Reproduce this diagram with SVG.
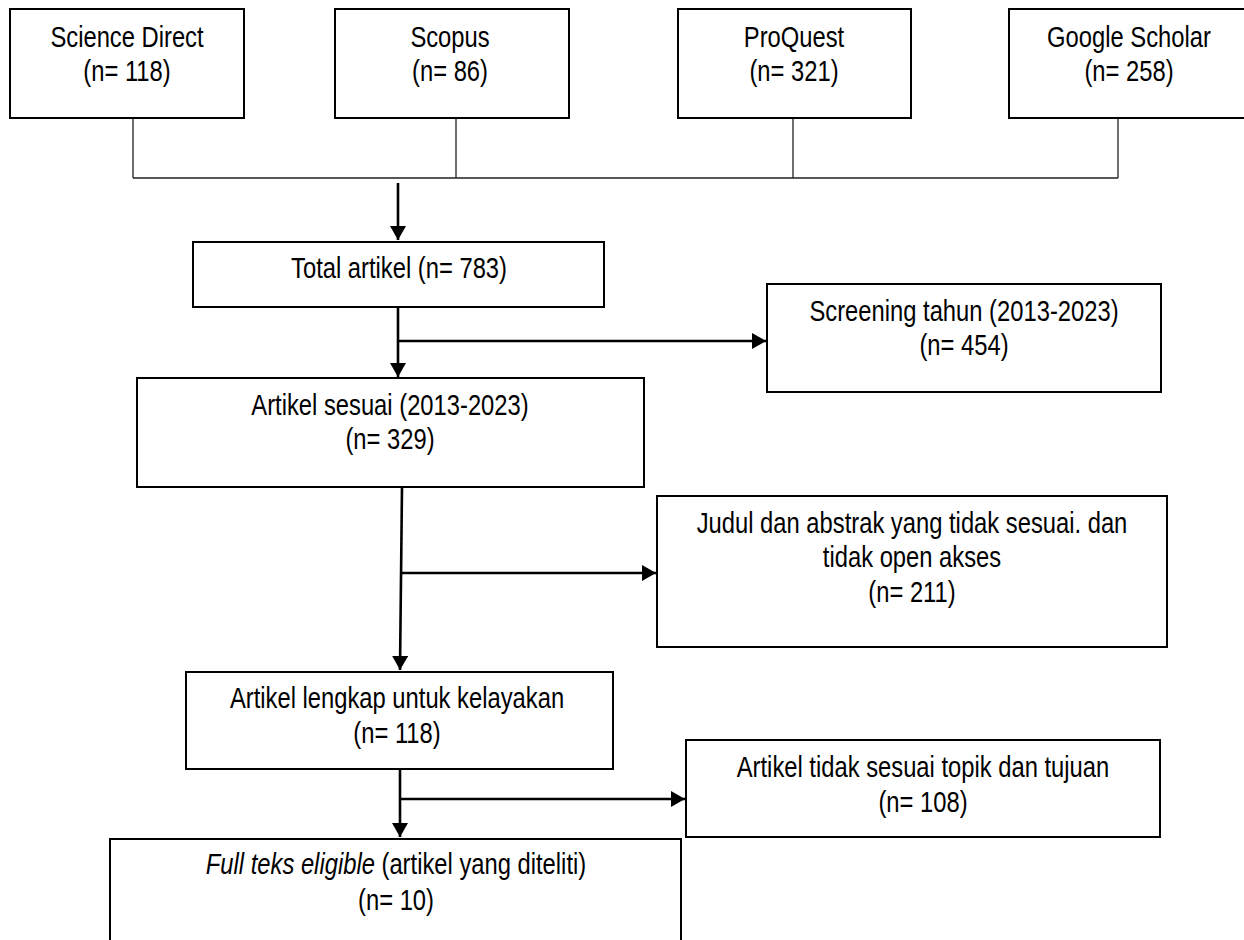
<svg xmlns="http://www.w3.org/2000/svg" width="1244" height="940" viewBox="0 0 1244 940">
<style>
.box{fill:#fff;stroke:#000;stroke-width:2}
.t{font-family:"Liberation Sans Narrow","Arial Narrow","Liberation Sans",Arial,sans-serif;font-size:29px;fill:#000;text-anchor:middle}
.thin{fill:none;stroke:#222;stroke-width:1.3}
.arr{fill:none;stroke:#000;stroke-width:2.6;marker-end:url(#ah)}
</style>
<defs>
<marker id="ah" viewBox="0 0 14 16" refX="14" refY="8" markerWidth="14" markerHeight="16" markerUnits="userSpaceOnUse" orient="auto">
<path d="M0,0 L14,8 L0,16 z" fill="#000"/>
</marker>
</defs>
<rect width="1244" height="940" fill="#fff"/>
<g id="connectors">
<path class="thin" d="M133,118 V178 M456,118 V178 M793,118 V178 M1118,118 V178 M133,178 H1118"/>
<path class="arr" d="M398,183 V240"/>
<path class="arr" d="M398,307 V377"/>
<path class="arr" d="M398,341 H766"/>
<path class="arr" d="M402,487 L400,670"/>
<path class="arr" d="M401,573 H656"/>
<path class="arr" d="M400,768 V837"/>
<path class="arr" d="M400,799 H685"/>
</g>
<g id="science-direct">
<rect class="box" x="10" y="9" width="234" height="109"/>
<text class="t" transform="translate(127 0) scale(0.82 1)" y="47">Science Direct</text>
<text class="t" transform="translate(127 0) scale(0.82 1)" y="81">(n= 118)</text>
</g>
<g id="scopus">
<rect class="box" x="335" y="9" width="234" height="109"/>
<text class="t" transform="translate(450 0) scale(0.82 1)" y="47">Scopus</text>
<text class="t" transform="translate(450 0) scale(0.82 1)" y="81">(n= 86)</text>
</g>
<g id="proquest">
<rect class="box" x="678" y="9" width="233" height="109"/>
<text class="t" transform="translate(794 0) scale(0.82 1)" y="47">ProQuest</text>
<text class="t" transform="translate(794 0) scale(0.82 1)" y="81">(n= 321)</text>
</g>
<g id="google-scholar">
<rect class="box" x="1009" y="9" width="240" height="109"/>
<text class="t" transform="translate(1129 0) scale(0.82 1)" y="47">Google Scholar</text>
<text class="t" transform="translate(1129 0) scale(0.82 1)" y="81">(n= 258)</text>
</g>
<g id="total">
<rect class="box" x="193" y="242" width="411" height="65"/>
<text class="t" transform="translate(399 0) scale(0.82 1)" y="278">Total artikel (n= 783)</text>
</g>
<g id="screening">
<rect class="box" x="767" y="284" width="394" height="108"/>
<text class="t" transform="translate(964 0) scale(0.82 1)" y="321">Screening tahun (2013-2023)</text>
<text class="t" transform="translate(964 0) scale(0.82 1)" y="355">(n= 454)</text>
</g>
<g id="artikel-sesuai">
<rect class="box" x="137" y="378" width="507" height="109"/>
<text class="t" transform="translate(390 0) scale(0.82 1)" y="415">Artikel sesuai (2013-2023)</text>
<text class="t" transform="translate(390 0) scale(0.82 1)" y="449">(n= 329)</text>
</g>
<g id="judul">
<rect class="box" x="657" y="496" width="510" height="151"/>
<text class="t" transform="translate(912 0) scale(0.82 1)" y="533">Judul dan abstrak yang tidak sesuai. dan</text>
<text class="t" transform="translate(912 0) scale(0.82 1)" y="567">tidak open akses</text>
<text class="t" transform="translate(912 0) scale(0.82 1)" y="602">(n= 211)</text>
</g>
<g id="artikel-lengkap">
<rect class="box" x="186" y="672" width="427" height="97"/>
<text class="t" transform="translate(397 0) scale(0.82 1)" y="708">Artikel lengkap untuk kelayakan</text>
<text class="t" transform="translate(397 0) scale(0.82 1)" y="743">(n= 118)</text>
</g>
<g id="tidak-sesuai">
<rect class="box" x="686" y="740" width="474" height="97"/>
<text class="t" transform="translate(923 0) scale(0.82 1)" y="777">Artikel tidak sesuai topik dan tujuan</text>
<text class="t" transform="translate(923 0) scale(0.82 1)" y="812">(n= 108)</text>
</g>
<g id="full-teks">
<rect class="box" x="110" y="839" width="571" height="120"/>
<text class="t" transform="translate(396 0) scale(0.82 1)" y="874"><tspan font-style="italic">Full teks eligible</tspan> (artikel yang diteliti)</text>
<text class="t" transform="translate(396 0) scale(0.82 1)" y="910">(n= 10)</text>
</g>
</svg>
